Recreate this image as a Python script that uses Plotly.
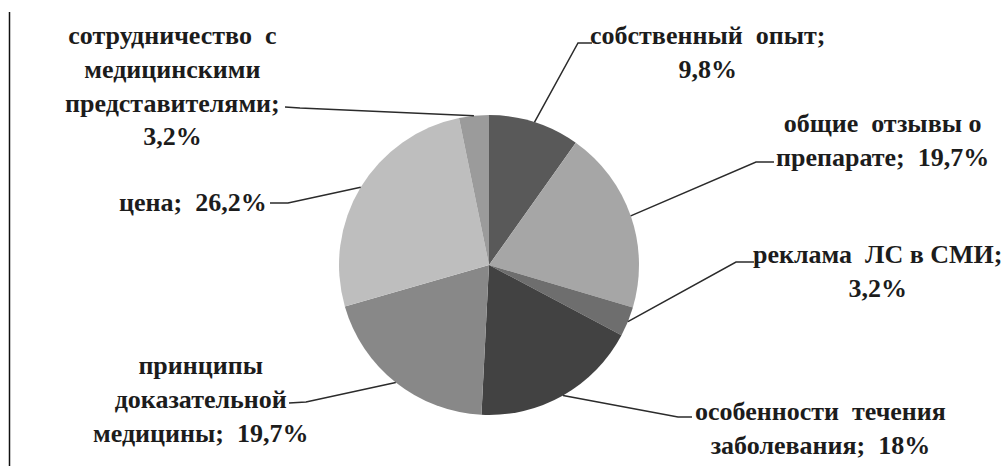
import math
import plotly.graph_objects as go

# Survey: factors influencing the choice of a medicine (share of answers, %)
categories = [
    "собственный опыт",
    "общие отзывы о препарате",
    "реклама ЛС в СМИ",
    "особенности течения заболевания",
    "принципы доказательной медицины",
    "цена",
    "сотрудничество с медицинскими представителями",
]
values = [9.8, 19.7, 3.2, 18.0, 19.7, 26.2, 3.2]
value_labels = ["9,8%", "19,7%", "3,2%", "18%", "19,7%", "26,2%", "3,2%"]
colors = ["#595959", "#a6a6a6", "#6e6e6e", "#424242", "#888888", "#bebebe", "#9b9b9b"]

NB = "\u00a0"
label_lines = [
    ["собственный" + NB + " опыт;", "{v}"],
    ["общие" + NB + " отзывы о", "препарате;" + NB + " {v}"],
    ["реклама" + NB + " ЛС в СМИ;", "{v}"],
    ["особенности" + NB + " течения", "заболевания;" + NB + " {v}"],
    ["принципы", "доказательной", "медицины;" + NB + " {v}"],
    ["цена;" + NB + " {v}"],
    ["сотрудничество" + NB + " с", "медицинскими", "представителями;", "{v}"],
]

W, H = 1003, 466
CX, CY, R = 489, 265, 150  # pie centre and radius in pixels

# label block centres and leader elbows (pixels)
label_pos = [(707, 52), (882, 140), (878, 271), (820, 428), (200, 399), (193, 202), (172, 86)]
elbows = [
    [(578, 43), (592, 43)],
    [(756, 162), (774, 162)],
    [(736, 262), (754, 262)],
    [(678, 417), (692, 417)],
    [(306, 402), (289, 403)],
    [(288, 203), (270, 203)],
    [(300, 108), (285, 107)],
]


def px(x, y):
    return x / W, 1 - y / H


fig = go.Figure(
    go.Pie(
        values=values,
        customdata=categories,
        sort=False,
        direction="clockwise",
        marker=dict(colors=colors),
        textinfo="none",
        showlegend=False,
        domain=dict(x=[(CX - R) / W, (CX + R) / W], y=[(H - CY - R) / H, (H - CY + R) / H]),
    )
)

shapes = []
annotations = []
total = sum(values)
cum = 0.0
for i, v in enumerate(values):
    mid = (cum + v / 2) / total * 2 * math.pi
    cum += v
    sx, sy = CX + R * math.sin(mid), CY - R * math.cos(mid)
    pts = [(sx, sy)] + elbows[i]
    path = "M " + " L ".join("{:.5f},{:.5f}".format(*px(x, y)) for x, y in pts)
    shapes.append(dict(type="path", path=path, xref="paper", yref="paper",
                       line=dict(color="#2b2b2b", width=1.5)))
    text = "<br>".join("<b>" + line.format(v=value_labels[i]) + "</b>" for line in label_lines[i])
    ax, ay = px(*label_pos[i])
    annotations.append(dict(text=text, x=ax, y=ay, xref="paper", yref="paper",
                            xanchor="center", yanchor="middle",
                            showarrow=False,
                            font=dict(family="Liberation Serif", size=26, color="#1c1c1c")))

# vertical rule at the left edge
shapes.append(dict(type="line", xref="paper", yref="paper",
                   x0=9.5 / W, x1=9.5 / W, y0=0, y1=1 - 12 / H,
                   line=dict(color="#111111", width=1.5)))

fig.update_layout(
    width=W, height=H,
    margin=dict(l=0, r=0, t=0, b=0),
    shapes=shapes, annotations=annotations,
)

fig.write_html("out.html")
